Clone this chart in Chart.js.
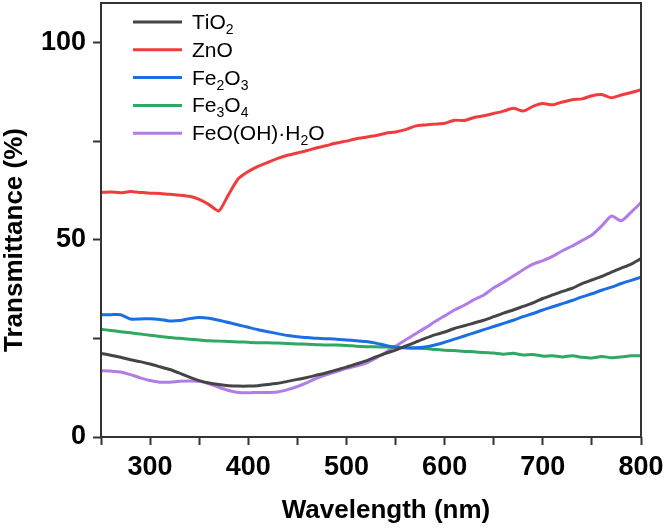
<!DOCTYPE html>
<html>
<head>
<meta charset="utf-8">
<script src="https://cdn.jsdelivr.net/npm/chart.js@4"></script>
<style>
  html, body { margin: 0; padding: 0; background: #fff; }
  #wrap { width: 666px; height: 529px; }
</style>
</head>
<body>
<div id="wrap"><canvas id="specChart" width="666" height="529"></canvas></div>
<script>
// wavelength grid (nm)
const wavelengths = [250,260,270,280,290,300,310,320,330,340,350,360,370,380,390,400,410,420,430,440,450,460,470,480,490,500,510,520,530,540,550,560,570,580,590,600,610,620,630,640,650,660,670,680,690,700,710,720,730,740,750,760,770,780,790,800];

// transmittance (%)
const tio2 = [21.2,20.7,20.2,19.6,19.1,18.5,17.8,17.1,16.2,15.2,14.3,13.7,13.3,13.0,12.9,12.9,13.0,13.3,13.6,14.1,14.6,15.1,15.7,16.3,17.0,17.7,18.5,19.3,20.3,21.2,22.0,23.0,24.0,25.0,25.9,26.6,27.5,28.2,28.9,29.6,30.5,31.4,32.2,33.1,34.0,35.1,36.0,36.9,37.7,38.9,39.8,40.7,41.8,42.8,43.8,45.2];
const zno = [62.0,62.1,61.9,62.2,62.0,61.8,61.7,61.5,61.3,61.0,60.2,58.9,57.3,61.5,65.5,67.3,68.6,69.6,70.6,71.4,72.0,72.6,73.3,73.9,74.5,75.0,75.6,76.0,76.4,77.0,77.3,77.9,78.8,79.1,79.3,79.5,80.3,80.2,81.0,81.4,82.0,82.6,83.3,82.6,83.8,84.5,84.2,84.9,85.5,85.7,86.5,86.8,86.0,86.7,87.3,88.0];
const fe2o3 = [31.0,31.0,31.0,29.9,29.9,30.0,29.8,29.4,29.5,30.0,30.3,30.1,29.6,29.0,28.4,27.8,27.2,26.7,26.2,25.7,25.4,25.2,25.0,24.9,24.8,24.6,24.4,24.2,23.8,23.2,22.8,22.6,22.6,22.8,23.3,24.0,24.8,25.6,26.4,27.2,28.0,28.8,29.6,30.5,31.3,32.2,33.0,33.8,34.6,35.5,36.3,37.2,38.0,38.9,39.7,40.5];
const fe3o4 = [27.3,27.0,26.7,26.4,26.1,25.8,25.5,25.2,25.0,24.8,24.6,24.4,24.3,24.2,24.1,24.0,23.9,23.9,23.8,23.7,23.6,23.5,23.4,23.3,23.3,23.2,23.0,22.9,22.9,22.8,22.7,22.6,22.5,22.4,22.2,22.0,21.9,21.7,21.6,21.4,21.3,21.0,21.2,20.8,20.9,20.5,20.6,20.3,20.6,20.2,20.0,20.4,20.1,20.3,20.6,20.6];
const feooh = [16.8,16.7,16.5,15.8,15.0,14.3,13.9,13.9,14.1,14.2,14.1,13.5,12.6,11.8,11.3,11.2,11.3,11.3,11.4,12.0,12.8,13.8,14.9,15.8,16.6,17.4,18.0,18.7,20.0,21.4,23.0,24.6,26.1,27.6,29.2,30.7,32.2,33.4,34.8,36.0,37.8,39.2,40.8,42.4,43.8,44.7,45.8,47.2,48.4,49.8,51.2,53.5,56.0,54.8,57.0,59.4];

const seriesLabels = ['TiO_2', 'ZnO', 'Fe_2O_3', 'Fe_3O_4', 'FeO(OH)·H_2O'];
const seriesColors = ['#454545', '#f03c3c', '#1c6fe3', '#2ea862', '#b07ce6'];
const seriesValues = [tio2, zno, fe2o3, fe3o4, feooh];

const FONT = '"Liberation Sans", Arial, sans-serif';

const datasets = seriesValues.map((vals, i) => ({
  label: seriesLabels[i].replace(/_/g, ''),
  data: vals.map((v, j) => ({ x: wavelengths[j], y: v })),
  borderColor: seriesColors[i],
  borderWidth: 3,
  pointRadius: 0,
  tension: 0.2,
  fill: false
}));

// frame, axis titles and a legend with subscripts
const decor = {
  id: 'decor',
  afterDraw(chart) {
    const { ctx, chartArea: a } = chart;
    ctx.save();
    ctx.strokeStyle = '#333';
    ctx.lineWidth = 2;
    ctx.strokeRect(a.left, a.top, a.right - a.left, a.bottom - a.top);

    ctx.fillStyle = '#000';
    ctx.font = 'bold 26px ' + FONT;
    ctx.textAlign = 'center';
    ctx.textBaseline = 'middle';
    ctx.fillText('Wavelength (nm)', 386, 511);
    ctx.save();
    ctx.translate(15, 240);
    ctx.rotate(-Math.PI / 2);
    ctx.fillText('Transmittance (%)', 0, 0);
    ctx.restore();

    // legend
    ctx.textAlign = 'left';
    ctx.textBaseline = 'alphabetic';
    seriesLabels.forEach((lab, i) => {
      const y = 22 + i * 27.8;
      ctx.strokeStyle = seriesColors[i];
      ctx.lineWidth = 3;
      ctx.beginPath();
      ctx.moveTo(133, y);
      ctx.lineTo(182, y);
      ctx.stroke();
      let x = 192;
      ctx.fillStyle = '#000';
      for (let k = 0; k < lab.length; k++) {
        if (lab[k] === '_') {
          k++;
          ctx.font = '14px ' + FONT;
          ctx.fillText(lab[k], x, y + 12);
          x += ctx.measureText(lab[k]).width;
        } else {
          ctx.font = '21px ' + FONT;
          ctx.fillText(lab[k], x, y + 7);
          x += ctx.measureText(lab[k]).width;
        }
      }
    });
    ctx.restore();
  }
};

new Chart(document.getElementById('specChart'), {
  type: 'line',
  data: { datasets },
  options: {
    responsive: false,
    animation: false,
    layout: { padding: { top: 3, right: 25, left: 0, bottom: 0 } },
    plugins: { legend: { display: false }, tooltip: { enabled: false } },
    scales: {
      x: {
        type: 'linear',
        min: 250,
        max: 800,
        afterFit(s) { s.height = 92; s.paddingLeft = 0; s.paddingRight = 0; },
        border: { display: false },
        grid: { drawOnChartArea: false, tickLength: 8, tickWidth: 2, tickColor: '#333' },
        ticks: {
          stepSize: 50,
          padding: 6,
          color: '#000',
          font: { family: FONT, size: 27, weight: 'bold' },
          maxRotation: 0,
          autoSkip: false,
          callback: v => (v >= 300 && v % 100 === 0) ? String(v) : ''
        }
      },
      y: {
        min: 0,
        max: 110,
        afterFit(s) { s.width = 101; s.paddingTop = 0; s.paddingBottom = 0; },
        afterBuildTicks(s) { s.ticks = s.ticks.filter(t => t.value <= 100); },
        border: { display: false },
        grid: { drawOnChartArea: false, tickLength: 8, tickWidth: 2, tickColor: '#333' },
        ticks: {
          stepSize: 25,
          padding: 7,
          color: '#000',
          font: { family: FONT, size: 27, weight: 'bold' },
          callback: v => (v % 50 === 0) ? String(v) : ''
        }
      }
    }
  },
  plugins: [decor]
});
</script>
</body>
</html>
